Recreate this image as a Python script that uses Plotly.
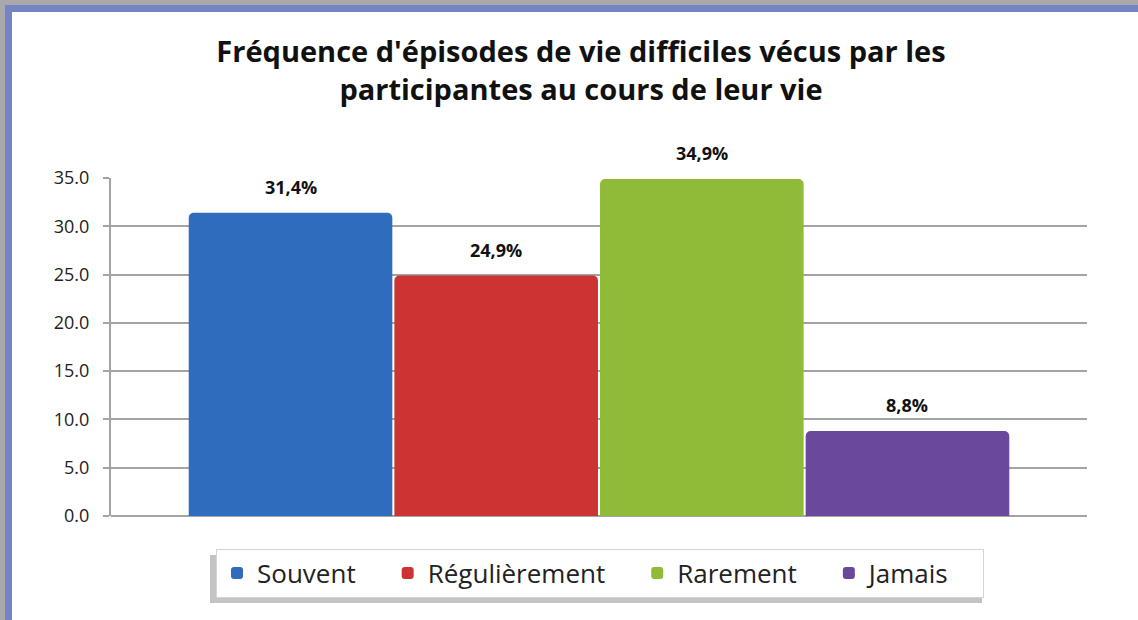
import plotly.graph_objects as go

# chart data
categories = ["Souvent", "Régulièrement", "Rarement", "Jamais"]
values = [31.4, 24.9, 34.9, 8.8]
labels = ["31,4%", "24,9%", "34,9%", "8,8%"]
colors = ["#2f6cbd", "#cc3333", "#90bb38", "#6a489c"]
y_ticks = [0, 5, 10, 15, 20, 25, 30, 35]

W, H = 1138, 620
L, R, T, B = 111, 1087, 178, 516  # plot area in pixels


def px(x):
    return (x - L) / (R - L)


def py(y):
    return (B - y) / (B - T)


fig = go.Figure()

pad = "\u00a0" * 4  # extra room between legend entries
for cat, val, col in zip(categories, values, colors):
    fig.add_trace(go.Bar(x=[cat], y=[val], name=cat + pad, marker=dict(color=col, line=dict(width=0)),
                         hoverinfo="skip"))

for cat, val, lab in zip(categories, values, labels):
    fig.add_annotation(x=cat, y=val, text=f"<b>{lab}</b>", showarrow=False, yshift=26,
                       font=dict(family="Open Sans", size=18, color="#111111"))

shapes = [
    # frame on left and top
    dict(type="rect", xref="paper", yref="paper", x0=px(0), x1=px(5), y0=py(W), y1=py(0),
         fillcolor="#a9a9ad", line=dict(width=0), layer="above"),
    dict(type="rect", xref="paper", yref="paper", x0=px(5), x1=px(12), y0=py(W), y1=py(5),
         fillcolor="#7584c2", line=dict(width=0), layer="above"),
    dict(type="rect", xref="paper", yref="paper", x0=px(5), x1=px(W), y0=py(5), y1=py(0),
         fillcolor="#a9a9ad", line=dict(width=0), layer="above"),
    dict(type="rect", xref="paper", yref="paper", x0=px(12), x1=px(W), y0=py(12), y1=py(5),
         fillcolor="#7584c2", line=dict(width=0), layer="above"),
    # legend shadow
    dict(type="rect", xref="paper", yref="paper", x0=px(210), x1=px(982), y0=py(603), y1=py(555),
         fillcolor="#c4c4c4", line=dict(width=0), layer="below"),
]

fig.update_layout(
    width=W, height=H,
    margin=dict(l=L, r=W - R, t=T, b=H - B),
    paper_bgcolor="white", plot_bgcolor="white",
    barmode="group", bargap=0.01, barcornerradius=5,
    font=dict(family="Open Sans", color="#222222"),
    title=dict(text="<b>Fréquence d'épisodes de vie difficiles vécus par les<br>participantes au cours de leur vie</b>",
               x=581 / W, xanchor="center", y=1 - 62 / H, yanchor="middle",
               font=dict(family="Open Sans", size=29, color="#111111")),
    xaxis=dict(visible=False, range=[-0.873, 3.873]),
    yaxis=dict(range=[0, 35], tickvals=y_ticks, tickformat=".1f", showgrid=True,
               gridcolor="#a3a3a3", gridwidth=2, showline=True, linecolor="#a3a3a3", linewidth=2,
               ticks="outside", ticklen=6, tickcolor="#a3a3a3", tickwidth=2, ticklabelstandoff=10,
               zeroline=True, zerolinecolor="#a3a3a3", zerolinewidth=2,
               tickfont=dict(family="Open Sans", size=18, color="#222222")),
    legend=dict(orientation="h", x=px(600), xanchor="center", y=py(573), yanchor="middle",
                bgcolor="white", bordercolor="#d4d4d4", borderwidth=1,
                font=dict(family="Open Sans", size=26, color="#222222"), itemwidth=30,
                traceorder="normal"),
    shapes=shapes,
    showlegend=True,
)

fig.write_html("out.html", config={"displayModeBar": False},
               post_script="document.body.style.margin='0';")
